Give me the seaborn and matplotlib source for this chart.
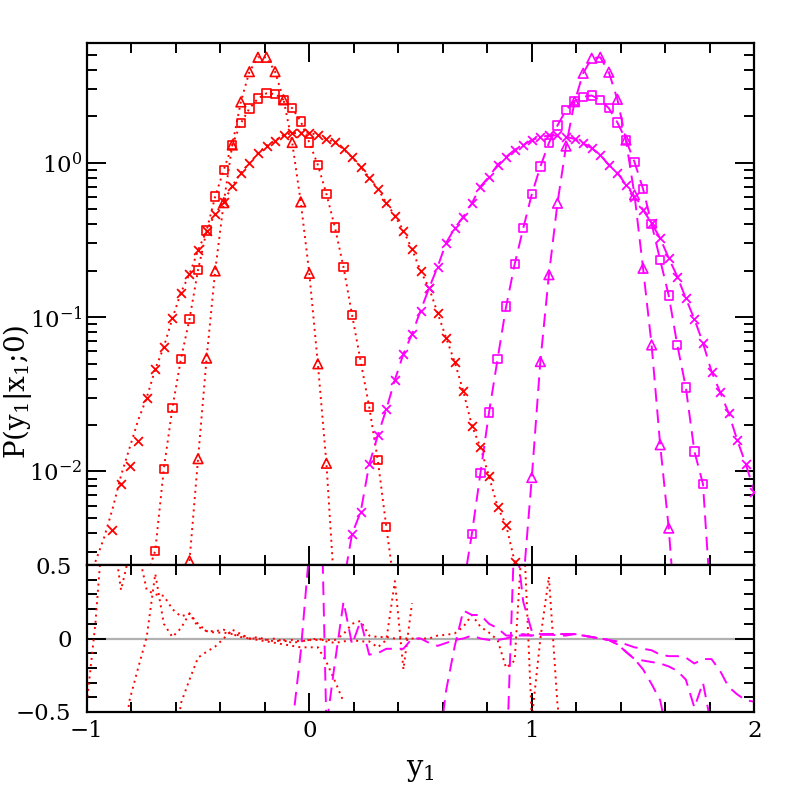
import numpy as np
import pandas as pd
import matplotlib
matplotlib.use("Agg")
import matplotlib.pyplot as plt
from matplotlib.ticker import (LogLocator, MultipleLocator, NullFormatter,
                               FixedLocator, FuncFormatter, LogFormatterSciNotation)
import seaborn as sns

plt.rcParams['font.family'] = ['DejaVu Serif']
plt.rcParams['mathtext.fontset'] = 'dejavuserif'

# ---------------- data ----------------
# y1 bin centres (79 bins spanning -1 .. 2)
y1_bins = np.linspace(-1.0, 2.0, 79)

# red group: measured points (start bin index, values)
red_cross_k0 = 3
red_cross = [0.0042, 0.0083, 0.0109, 0.0157, 0.030, 0.046, 0.064, 0.098, 0.144, 0.19,
             0.27, 0.363, 0.466, 0.56, 0.706, 0.861, 0.99, 1.15, 1.29, 1.39,
             1.51, 1.55, 1.56, 1.56, 1.51, 1.42, 1.35, 1.22, 1.08, 0.94,
             0.80, 0.676, 0.55, 0.452, 0.363, 0.275, 0.199, 0.154, 0.106, 0.073,
             0.051, 0.033, 0.0198, 0.0143, 0.0093, 0.0059, 0.0045, 0.0026]
red_square_k0 = 8
red_square = [0.00307, 0.0104, 0.0257, 0.0536, 0.097, 0.202, 0.363, 0.603, 0.897, 1.30,
              1.80, 2.24, 2.60, 2.81, 2.78, 2.55, 2.25, 1.85, 1.35, 0.966,
              0.627, 0.38, 0.21, 0.103, 0.0518, 0.0262, 0.0119, 0.00437]
red_tri_k0 = 12
red_tri = [0.00264, 0.0121, 0.0542, 0.199, 0.55, 1.30, 2.47, 3.88, 4.81, 4.81,
           3.88, 2.55, 1.35, 0.557, 0.192, 0.0498, 0.0113]

# red group: model curves (dotted)
red_cross_fit_k0 = 1
red_cross_fit = [0.0026, 0.0037, 0.0057, 0.0094, 0.0142, 0.0215, 0.030, 0.046, 0.064, 0.098,
                 0.144, 0.19, 0.27, 0.363, 0.466, 0.56, 0.706, 0.861, 0.99, 1.15,
                 1.29, 1.39, 1.51, 1.55, 1.56, 1.56, 1.51, 1.42, 1.35, 1.22,
                 1.08, 0.94, 0.80, 0.676, 0.55, 0.452, 0.363, 0.275, 0.199, 0.154,
                 0.106, 0.073, 0.051, 0.033, 0.0198, 0.0143, 0.0093, 0.0059, 0.0045, 0.0026,
                 0.0012]
red_square_fit_k0 = 6
red_square_fit = [0.0012, 0.0021, 0.00307, 0.0104, 0.0257, 0.0536, 0.097, 0.202, 0.363, 0.603,
                  0.897, 1.30, 1.80, 2.24, 2.60, 2.81, 2.78, 2.55, 2.25, 1.85,
                  1.35, 0.966, 0.627, 0.38, 0.21, 0.103, 0.0518, 0.0262, 0.0119, 0.00437,
                  0.0017, 0.0006]
red_tri_fit_k0 = 11
red_tri_fit = [0.0006, 0.00264, 0.0121, 0.0542, 0.199, 0.55, 1.30, 2.47, 3.88, 4.81,
               4.81, 3.88, 2.55, 1.35, 0.557, 0.192, 0.0498, 0.0113, 0.0015]

# magenta group: measured points
mag_cross_k0 = 31
mag_cross = [0.00395, 0.00546, 0.0111, 0.0171, 0.0253, 0.0392, 0.0578, 0.0775, 0.110, 0.154,
             0.212, 0.303, 0.376, 0.447, 0.546, 0.70, 0.811, 0.966, 1.09, 1.21,
             1.30, 1.40, 1.46, 1.50, 1.50, 1.47, 1.42, 1.34, 1.24, 1.12,
             0.966, 0.861, 0.718, 0.603, 0.494, 0.405, 0.324, 0.241, 0.183, 0.132,
             0.097, 0.068, 0.0444, 0.0327, 0.0239, 0.0160, 0.0112, 0.0074]
mag_square_k0 = 45
mag_square = [0.00395, 0.00977, 0.0241, 0.0534, 0.117, 0.22, 0.376, 0.624, 0.942, 1.34,
              1.74, 2.19, 2.51, 2.67, 2.72, 2.55, 2.25, 1.82, 1.40, 1.01,
              0.676, 0.401, 0.234, 0.138, 0.066, 0.035, 0.0135, 0.0083]
mag_tri_k0 = 52
mag_tri = [0.00914, 0.0515, 0.188, 0.546, 1.28, 2.48, 3.79, 4.74, 4.81, 3.85,
           2.57, 1.40, 0.618, 0.207, 0.066, 0.0149, 0.0043]

# magenta group: model curves (dashed)
mag_cross_fit_k0 = 29
mag_cross_fit = [0.0009, 0.0019, 0.00395, 0.00546, 0.0111, 0.0171, 0.0253, 0.0392, 0.0578, 0.0775,
                 0.110, 0.154, 0.212, 0.303, 0.376, 0.447, 0.546, 0.70, 0.811, 0.966,
                 1.09, 1.21, 1.30, 1.40, 1.46, 1.50, 1.50, 1.47, 1.42, 1.34,
                 1.24, 1.12, 0.966, 0.861, 0.718, 0.603, 0.494, 0.405, 0.324, 0.241,
                 0.183, 0.132, 0.097, 0.068, 0.0444, 0.0327, 0.0239, 0.0160, 0.0112, 0.0074]
mag_square_fit_k0 = 43
mag_square_fit = [0.0007, 0.0018, 0.00395, 0.00977, 0.0241, 0.0534, 0.117, 0.22, 0.376, 0.624,
                  0.942, 1.34, 1.74, 2.19, 2.51, 2.67, 2.72, 2.55, 2.25, 1.82,
                  1.40, 1.01, 0.676, 0.401, 0.234, 0.138, 0.066, 0.035, 0.0135, 0.0083,
                  0.0012]
mag_tri_fit_k0 = 51
mag_tri_fit = [0.0019, 0.00914, 0.0515, 0.188, 0.546, 1.28, 2.48, 3.79, 4.74, 4.81,
               3.85, 2.57, 1.40, 0.618, 0.207, 0.066, 0.0149, 0.0043, 0.0008]

# residual panel
res_red_cross_k0 = 0
res_red_cross = [-0.44, 0.1, 0.85, 0.75, 0.33, 0.58, 0.6, 0.33, 0.30, 0.29,
                 0.20, 0.15, 0.17, 0.10, 0.05, 0.04, 0.04, 0.03, 0.02, 0.0,
                 0.01, -0.01, 0.0, -0.02, -0.01, -0.02, -0.01, -0.01, -0.01, -0.01,
                 0.03, 0.10, 0.12, 0.02, 0.01, 0.01, 0.0, 0.0, 0.0, 0.0,
                 0.0, 0.02, 0.025, 0.035, 0.08, 0.16, 0.08, 0.04, -0.01, -0.2,
                 -0.15, 0.8, -0.55, 0.0, 0.42, -0.45, -0.9]
res_red_square_k0 = 4
res_red_square = [-0.8, -0.42, -0.2, 0.01, 0.44, 0.10, 0.01, 0.07, 0.17, 0.08,
                  0.05, 0.05, 0.06, 0.03, 0.01, 0.0, 0.0, -0.01, -0.02, -0.01,
                  -0.03, -0.02, -0.01, 0.0, -0.02, -0.03, -0.02, -0.01, -0.02, -0.02,
                  -0.06, -0.01, 0.39, -0.21, 0.24]
res_red_tri_k0 = 10
res_red_tri = [-0.9, -0.44, -0.28, -0.13, -0.09, -0.055, 0.0, 0.06, 0.03, 0.0,
               -0.01, -0.02, -0.03, -0.04, -0.05, -0.06, -0.06, -0.06, -0.16, -0.29, -0.43]
res_mag_cross_k0 = 24
res_mag_cross = [-0.6, -0.09, 0.6, 2.0, -0.6, -0.16, 0.25, -0.04, 0.12, -0.11,
                 -0.1, -0.07, -0.07, -0.07, 0.0, 0.0, -0.03, -0.05, -0.03, -0.01,
                 0.0, 0.02, 0.0, -0.01, -0.01, 0.0, 0.02, 0.02, 0.02, 0.025,
                 0.025, 0.03, 0.03, 0.03, 0.02, 0.01, 0.0, -0.01, -0.02, -0.04,
                 -0.06, -0.07, -0.08, -0.11, -0.12, -0.12, -0.13, -0.17, -0.14, -0.14,
                 -0.22, -0.33, -0.38, -0.42, -0.43]
res_mag_square_k0 = 41
res_mag_square = [-0.8, -0.35, -0.05, 0.19, 0.16, 0.16, 0.10, 0.07, 0.02, 0.02,
                  0.03, 0.02, 0.03, 0.03, 0.02, 0.02, 0.03, 0.02, 0.01, 0.0,
                  -0.01, -0.04, -0.09, -0.14, -0.15, -0.16, -0.17, -0.19, -0.22, -0.28,
                  -0.47, -0.3, -0.6]
res_mag_tri_k0 = 49
res_mag_tri = [-0.92, 0.77, 0.25, 0.05, 0.03, 0.03, 0.03, 0.03, 0.03, 0.02,
               0.01, 0.0, -0.01, -0.04, -0.09, -0.14, -0.21, -0.31, -0.42, -0.7]

x_major_ticks = [-1, 0, 1, 2]
res_major_ticks = [-0.5, 0, 0.5]

# ---------------- style ----------------
RED = '#ff0000'
MAG = '#ff00ff'
DOT = (0, (1, 2.2))
DASH = (0, (7, 4))
LW = 1.4


def frame(k0, vals, col):
    return pd.DataFrame({'y1': y1_bins[k0:k0 + len(vals)], col: vals})


fig = plt.figure(figsize=(7.97, 7.97), dpi=100)
ax = fig.add_axes([86.8 / 797, 1 - 565 / 797, (754.3 - 86.8) / 797, (565 - 43) / 797])
axr = fig.add_axes([86.8 / 797, 1 - 712 / 797, (754.3 - 86.8) / 797, (712 - 565) / 797],
                   sharex=ax)

ax.set_yscale('log')

fits = [(red_cross_fit_k0, red_cross_fit, RED, DOT),
        (red_square_fit_k0, red_square_fit, RED, DOT),
        (red_tri_fit_k0, red_tri_fit, RED, DOT),
        (mag_cross_fit_k0, mag_cross_fit, MAG, DASH),
        (mag_square_fit_k0, mag_square_fit, MAG, DASH),
        (mag_tri_fit_k0, mag_tri_fit, MAG, DASH)]
for k0, vals, c, ls in fits:
    d = frame(k0, vals, 'P')
    sns.lineplot(data=d, x='y1', y='P', ax=ax, color=c, linestyle=ls, linewidth=LW,
                 estimator=None, sort=False, legend=False)

points = [(red_cross_k0, red_cross, RED, 'x'),
          (red_square_k0, red_square, RED, 's'),
          (red_tri_k0, red_tri, RED, '^'),
          (mag_cross_k0, mag_cross, MAG, 'x'),
          (mag_square_k0, mag_square, MAG, 's'),
          (mag_tri_k0, mag_tri, MAG, '^')]
for k0, vals, c, m in points:
    d = frame(k0, vals, 'P')
    if m == 'x':
        sns.scatterplot(data=d, x='y1', y='P', ax=ax, marker='x', color=c, s=40,
                        linewidth=1.3, legend=False, zorder=3)
    else:
        sns.scatterplot(data=d, x='y1', y='P', ax=ax, marker=m, color=c,
                        facecolor='none', edgecolor=c, s=36 if m == 's' else 48,
                        linewidth=1.2, legend=False, zorder=3)

residuals = [(res_red_cross_k0, res_red_cross, RED, DOT),
             (res_red_square_k0, res_red_square, RED, DOT),
             (res_red_tri_k0, res_red_tri, RED, DOT),
             (res_mag_cross_k0, res_mag_cross, MAG, DASH),
             (res_mag_square_k0, res_mag_square, MAG, DASH),
             (res_mag_tri_k0, res_mag_tri, MAG, DASH)]
axr.axhline(0, color='#b0b0b0', linewidth=1.6, zorder=0)
for k0, vals, c, ls in residuals:
    d = frame(k0, vals, 'R')
    sns.lineplot(data=d, x='y1', y='R', ax=axr, color=c, linestyle=ls, linewidth=LW,
                 estimator=None, sort=False, legend=False)

# ---------------- axes ----------------
ax.set_xlim(-1, 2)
ax.set_ylim(0.00248, 5.95)
axr.set_ylim(-0.5, 0.5)

ax.xaxis.set_major_locator(FixedLocator(x_major_ticks))
ax.xaxis.set_minor_locator(MultipleLocator(0.2))
ax.yaxis.set_major_locator(LogLocator(base=10, numticks=12))
ax.yaxis.set_minor_locator(LogLocator(base=10, subs=np.arange(2, 10), numticks=12))
ax.yaxis.set_major_formatter(LogFormatterSciNotation())
ax.yaxis.set_minor_formatter(NullFormatter())

axr.yaxis.set_major_locator(FixedLocator(res_major_ticks))
axr.yaxis.set_minor_locator(MultipleLocator(0.1))
fmt = FuncFormatter(lambda v, p: ('%g' % v).replace('-', '\u2212'))
axr.yaxis.set_major_formatter(fmt)
axr.xaxis.set_major_formatter(fmt)

for a in (ax, axr):
    a.set_xlabel('')
    a.set_ylabel('')
    for s in a.spines.values():
        s.set_linewidth(1.6)
    a.tick_params(which='both', direction='in', top=True, right=True, width=1.4,
                  labelsize=16.5, colors='black')
    a.tick_params(which='major', length=13.5)
    a.tick_params(which='minor', length=7)
    a.tick_params(axis='x', pad=6)
ax.tick_params(axis='y', pad=3)
axr.tick_params(axis='y', pad=11)
ax.tick_params(labelbottom=False)

fig.text(18 / 797, 1 - 392 / 797, r'P(y$_1$|x$_1$;0)', rotation=90,
         ha='center', va='center', fontsize=20)
fig.text(420 / 797, 1 - 770 / 797, r'y$_1$', ha='center', va='center', fontsize=21)

fig.savefig('out.png', dpi=100)
